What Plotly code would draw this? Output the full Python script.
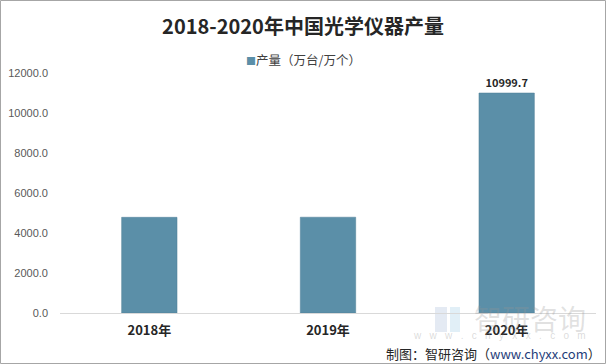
import plotly.graph_objects as go

categories = ["2018年", "2019年", "2020年"]
values = [4785, 4790, 10999.7]
labels = ["", "", "10999.7"]
series_name = "产量（万台/万个）"
title_text = "2018-2020年中国光学仪器产量"

FONT = "Noto Sans CJK SC"
BAR = "#5b8fa8"

# plot area in pixels: x 60..596, y 73..313
def py(p):
    return (313 - p) / 240.0

def px(p):
    return (p - 60) / 536.0

fig = go.Figure()
fig.add_trace(go.Bar(
    x=categories, y=values, name=series_name,
    marker=dict(color=BAR, line=dict(color="#4f7f97", width=0.5)),
    width=0.31,
    text=["<b>" + t + "</b>" if t else "" for t in labels],
    textposition="outside", cliponaxis=False,
    textfont=dict(family=FONT, size=11, color="#262626"),
    showlegend=False,
))

fig.update_layout(
    width=606, height=364,
    margin=dict(l=60, r=10, t=73, b=51, autoexpand=False),
    paper_bgcolor="white", plot_bgcolor="white",
    font=dict(family=FONT),
    title=dict(text="<b>" + title_text + "</b>", x=0.5, xanchor="center",
               xref="container",
               y=1 - 27 / 364.0, yanchor="middle", yref="container",
               font=dict(family=FONT, size=20, color="#262626")),
    bargap=0.69,
)
fig.update_xaxes(
    showline=True, linecolor="#d9d9d9", linewidth=1,
    ticks="", tickfont=dict(family=FONT, size=13, color="#262626"),
    tickprefix="<b>", ticksuffix="</b>", ticklabelstandoff=5,
)
fig.update_yaxes(
    range=[0, 12000], dtick=2000, tickformat=".1f",
    showgrid=False, zeroline=False, showline=False,
    tickfont=dict(family="Liberation Sans", size=11, color="#595959"),
    ticklabelstandoff=11,
)

# legend (drawn as text with colour key)
fig.add_annotation(xref="paper", yref="paper", x=px(303), y=py(60), xanchor="center", yanchor="middle",
                   text="<span style='color:%s;font-size:10px'>■</span>%s" % (BAR, series_name),
                   showarrow=False, font=dict(family=FONT, size=12.5, color="#404040"))

# watermark logo + text
fig.add_shape(type="rect", xref="paper", yref="paper", x0=px(435), x1=px(447), y0=py(332), y1=py(307),
              line=dict(width=0), fillcolor="rgba(130,160,200,0.22)", layer="below")
fig.add_shape(type="rect", xref="paper", yref="paper", x0=px(450), x1=px(460), y0=py(332), y1=py(307),
              line=dict(width=0), fillcolor="rgba(120,180,220,0.22)", layer="below")
fig.add_annotation(xref="paper", yref="paper", x=px(588), y=py(318), xanchor="right", yanchor="middle",
                   text="智研咨询", showarrow=False,
                   font=dict(family=FONT, size=28, color="rgba(150,150,150,0.28)"))
fig.add_annotation(xref="paper", yref="paper", x=px(588), y=py(335), xanchor="right", yanchor="middle",
                   text="w   w   w   .   c   h   y   x   x   .   c   o   m", showarrow=False,
                   font=dict(family="Liberation Sans", size=10, color="rgba(150,150,150,0.35)"))

# footer
fig.add_annotation(xref="paper", yref="paper", x=px(603), y=py(353), xanchor="right", yanchor="middle",
                   text="制图：智研咨询（<span style='color:#1f3d7a'>www.chyxx.com</span>）",
                   showarrow=False,
                   font=dict(family=FONT, size=13, color="#262626"))

# border
fig.add_shape(type="rect", xref="paper", yref="paper", x0=px(0.5), x1=px(605.5), y0=py(363.5), y1=py(0.5),
              line=dict(color="#a6a6a6", width=1), fillcolor="rgba(0,0,0,0)")

fig.write_html("out.html", config={"displayModeBar": False},
               post_script="document.body.style.margin='0';document.body.style.overflow='hidden';")
